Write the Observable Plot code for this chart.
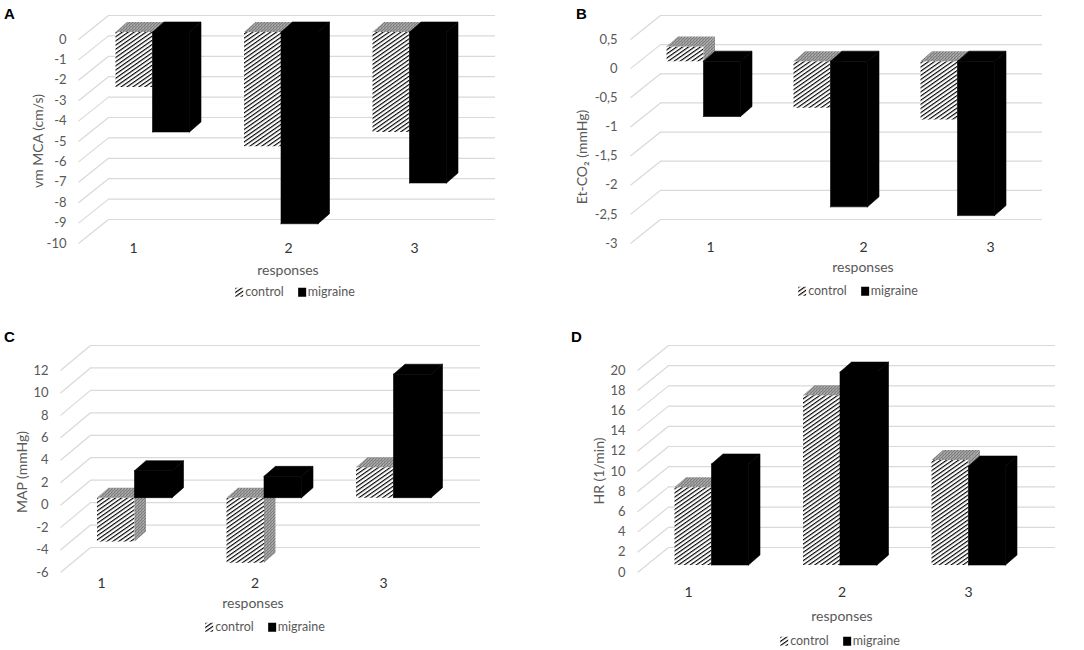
<!DOCTYPE html>
<html><head><meta charset="utf-8">
<script src="https://cdn.jsdelivr.net/npm/d3@7"></script>
<script src="https://cdn.jsdelivr.net/npm/@observablehq/plot@0.6"></script>
<style>
html,body{margin:0;padding:0;background:#fff;}
#root{position:relative;width:1084px;height:650px;overflow:hidden;font-family:Lato,"Open Sans",sans-serif;color:#595959;}
.abs{position:absolute;}
.abs svg{overflow:visible;}
.letter{font-family:"Liberation Sans",Arial,sans-serif;font-weight:bold;font-size:15px;color:#000;line-height:1;}
.ytitle{font-size:14px;white-space:nowrap;transform:translate(-50%,-50%) rotate(-90deg);line-height:1;}
.xtitle{font-size:14px;transform:translate(-50%,-50%);white-space:nowrap;line-height:1;}
.legend{font-size:12.5px;display:flex;align-items:center;transform:translate(-50%,-50%);white-space:nowrap;line-height:1;}
.legend svg{margin-right:2px;}
</style></head><body>
<svg width="0" height="0" style="position:absolute">
<defs>
<pattern id="hatch" patternUnits="userSpaceOnUse" width="6" height="3.4" patternTransform="rotate(-35)">
<rect width="6" height="3.4" fill="#fff"/>
<rect y="0" width="6" height="1.15" fill="#000"/>
</pattern>
<pattern id="grain" patternUnits="userSpaceOnUse" width="3" height="3">
<rect width="3" height="3" fill="#bdbdbd"/>
<rect x="0" y="0" width="1" height="1" fill="#222"/>
<rect x="2" y="1" width="1" height="1" fill="#444"/>
<rect x="1" y="2" width="1" height="1" fill="#333"/>
<rect x="1" y="0" width="1" height="1" fill="#eee"/>
</pattern>
</defs>
</svg>
<div id="root"></div>
<script>
// ---------- data ----------
const categories = ["1", "2", "3"];
const seriesNames = ["control", "migraine"];

const ticksA = [0, -1, -2, -3, -4, -5, -6, -7, -8, -9, -10];
const controlA = [-2.7, -5.6, -4.9];
const migraineA = [-4.9, -9.4, -7.4];

const ticksB = [0.5, 0, -0.5, -1, -1.5, -2, -2.5, -3];
const controlB = [0.25, -0.8, -1.0];
const migraineB = [-0.95, -2.5, -2.65];

const ticksC = [12, 10, 8, 6, 4, 2, 0, -2, -4, -6];
const controlC = [-3.9, -5.8, 2.7];
const migraineC = [2.4, 1.9, 11.0];

const ticksD = [20, 18, 16, 14, 12, 10, 8, 6, 4, 2, 0];
const controlD = [7.7, 16.8, 10.4];
const migraineD = [10.0, 19.1, 9.8];

const yTitles = ["vm MCA (cm/s)", "Et-CO\u2082 (mmHg)", "MAP (mmHg)", "HR (1/min)"];
const xTitle = "responses";
const letters = ["A", "B", "C", "D"];

// ---------- layout (pixels) ----------
const BAR_DX = 11.5, BAR_DY = 10, BAR_LIFT = 7.5;
const comma = d => String(d).replace(".", ",");
const panels = [
  {letter: letters[0], ytitle: yTitles[0], ticks: ticksA, control: controlA, migraine: migraineA, fmt: d => String(d),
   left: 0, top: 0, width: 540, height: 300, yDomain: [-10, 0], yRange: [243, 39], xRange: [23.5, 537.5],
   tickX: 66, floorX: [78, 108], backRight: 495, floorDY: 24, barW: 37, labelOff: [-19, 7.5, 5], labelY: 248,
   letterPos: [4, 6], ytitlePos: [38, 141], xtitlePos: [288, 270], legendPos: [295, 292]},
  {letter: letters[1], ytitle: yTitles[1], ticks: ticksB, control: controlB, migraine: migraineB, fmt: comma,
   left: 540, top: 0, width: 544, height: 300, yDomain: [-3, 0.5], yRange: [243, 39], xRange: [36, 544],
   tickX: 77, floorX: [90, 120], backRight: 502, floorDY: 24, barW: 37, labelOff: [7, 33, 33], labelY: 247,
   letterPos: [576, 6], ytitlePos: [582, 157], xtitlePos: [863, 267], legendPos: [858, 291]},
  {letter: letters[2], ytitle: yTitles[2], ticks: ticksC, control: controlC, migraine: migraineC, fmt: d => String(d),
   left: 0, top: 320, width: 540, height: 330, yDomain: [-6, 12], yRange: [252, 50], xRange: [4.5, 522.5],
   tickX: 48, floorX: [60, 90], backRight: 480, floorDY: 25, barW: 37.5, labelOff: [-33, -9, -10], labelY: 263,
   letterPos: [4, 329], ytitlePos: [22, 472], xtitlePos: [253, 603], legendPos: [265, 627]},
  {letter: letters[3], ytitle: yTitles[3], ticks: ticksD, control: controlD, migraine: migraineD, fmt: d => String(d),
   left: 540, top: 320, width: 544, height: 330, yDomain: [0, 20], yRange: [252, 50], xRange: [42.5, 556.5],
   tickX: 85, floorX: [97, 128], backRight: 515, floorDY: 25, barW: 37, labelOff: [-23, 2, 0], labelY: 272,
   letterPos: [571, 329], ytitlePos: [599, 471], xtitlePos: [842, 616], legendPos: [840, 641]}
];

const root = document.getElementById("root");

function drawPanel(p) {
  const X0 = 0, X1 = 4;
  const ppx = (p.xRange[1] - p.xRange[0]) / (X1 - X0);
  const ppy = (p.yRange[0] - p.yRange[1]) / (p.yDomain[1] - p.yDomain[0]);
  const xData = px => X0 + (px - p.xRange[0]) / ppx;
  const yData = px => p.yDomain[0] + (p.yRange[0] - px) / ppy;
  const hU = px => px / ppy;
  const wU = p.barW / ppx, bdx = BAR_DX / ppx, bdy = hU(BAR_DY), base = hU(BAR_LIFT);
  const fdy = hU(p.floorDY);

  const faces = {cf: [], ct: [], cs: [], m: []};
  categories.forEach((c, i) => {
    seriesNames.forEach((s, j) => {
      const v = (j === 0 ? p.control : p.migraine)[i];
      const x0 = (i + 1) + (j === 0 ? -wU : 0), x1 = x0 + wU;
      const lo = Math.min(base, base + v), hi = Math.max(base, base + v);
      const id = c + "-" + s;
      const front = [[x0, lo], [x1, lo], [x1, hi], [x0, hi], [x0, lo]];
      const top = [[x0, hi], [x1, hi], [x1 + bdx, hi + bdy], [x0 + bdx, hi + bdy], [x0, hi]];
      const side = [[x1, lo], [x1 + bdx, lo + bdy], [x1 + bdx, hi + bdy], [x1, hi], [x1, lo]];
      const push = (arr, pts, f) => pts.forEach(([x, y]) => arr.push({id: id + f, x, y}));
      if (j === 0) { push(faces.cf, front, "f"); push(faces.ct, top, "t"); push(faces.cs, side, "s"); }
      else { push(faces.m, front, "f"); push(faces.m, top, "t"); push(faces.m, side, "s"); }
    });
  });

  const chart = Plot.plot({
    width: p.width, height: p.height,
    x: {domain: [X0, X1], range: p.xRange, axis: null},
    y: {domain: p.yDomain, range: p.yRange, axis: null},
    style: {fontFamily: "Lato, 'Open Sans', sans-serif", overflow: "visible", background: "transparent"},
    marks: [
      Plot.link(p.ticks, {x1: xData(p.floorX[0]), y1: d => d, x2: xData(p.floorX[1]), y2: d => d + fdy, stroke: "#d9d9d9", strokeWidth: 1.2}),
      Plot.ruleY(p.ticks, {y: d => d + fdy, x1: xData(p.floorX[1]), x2: xData(p.backRight), stroke: "#d9d9d9", strokeWidth: 1.2}),
      Plot.text(p.ticks, {x: xData(p.tickX), y: d => d, text: p.fmt, textAnchor: "end", fill: "#595959", fontSize: 13}),
      Plot.line(faces.cf, {x: "x", y: "y", z: "id", fill: "url(#hatch)", stroke: "none"}),
      Plot.line(faces.ct, {x: "x", y: "y", z: "id", fill: "url(#grain)", stroke: "none"}),
      Plot.line(faces.cs, {x: "x", y: "y", z: "id", fill: "url(#grain)", stroke: "none"}),
      Plot.line(faces.m, {x: "x", y: "y", z: "id", fill: "#000", stroke: "#000", strokeWidth: 0.6}),
      Plot.text(categories, {x: (d, i) => (i + 1) + p.labelOff[i] / ppx, y: yData(p.labelY), text: d => d, fill: "#333", fontSize: 14})
    ]
  });
  const holder = document.createElement("div");
  holder.className = "abs";
  holder.style.left = p.left + "px";
  holder.style.top = p.top + "px";
  holder.appendChild(chart);
  root.appendChild(holder);

  const letter = document.createElement("div");
  letter.className = "abs letter";
  letter.style.left = p.letterPos[0] + "px"; letter.style.top = p.letterPos[1] + "px";
  letter.textContent = p.letter;
  root.appendChild(letter);

  const yt = document.createElement("div");
  yt.className = "abs ytitle";
  yt.style.left = p.ytitlePos[0] + "px"; yt.style.top = p.ytitlePos[1] + "px";
  yt.textContent = p.ytitle;
  root.appendChild(yt);

  const xt = document.createElement("div");
  xt.className = "abs xtitle";
  xt.style.left = p.xtitlePos[0] + "px"; xt.style.top = p.xtitlePos[1] + "px";
  xt.textContent = xTitle;
  root.appendChild(xt);

  const lg = document.createElement("div");
  lg.className = "abs legend";
  lg.style.left = p.legendPos[0] + "px"; lg.style.top = p.legendPos[1] + "px";
  lg.innerHTML =
    '<svg width="8" height="9"><rect width="8" height="9" fill="url(#hatch)"/></svg><span>' + seriesNames[0] + '</span>' +
    '<span style="display:inline-block;width:14px"></span>' +
    '<svg width="8" height="9"><rect width="8" height="9" fill="#000"/></svg><span>' + seriesNames[1] + '</span>';
  root.appendChild(lg);
}

panels.forEach(drawPanel);
</script>
</body></html>
